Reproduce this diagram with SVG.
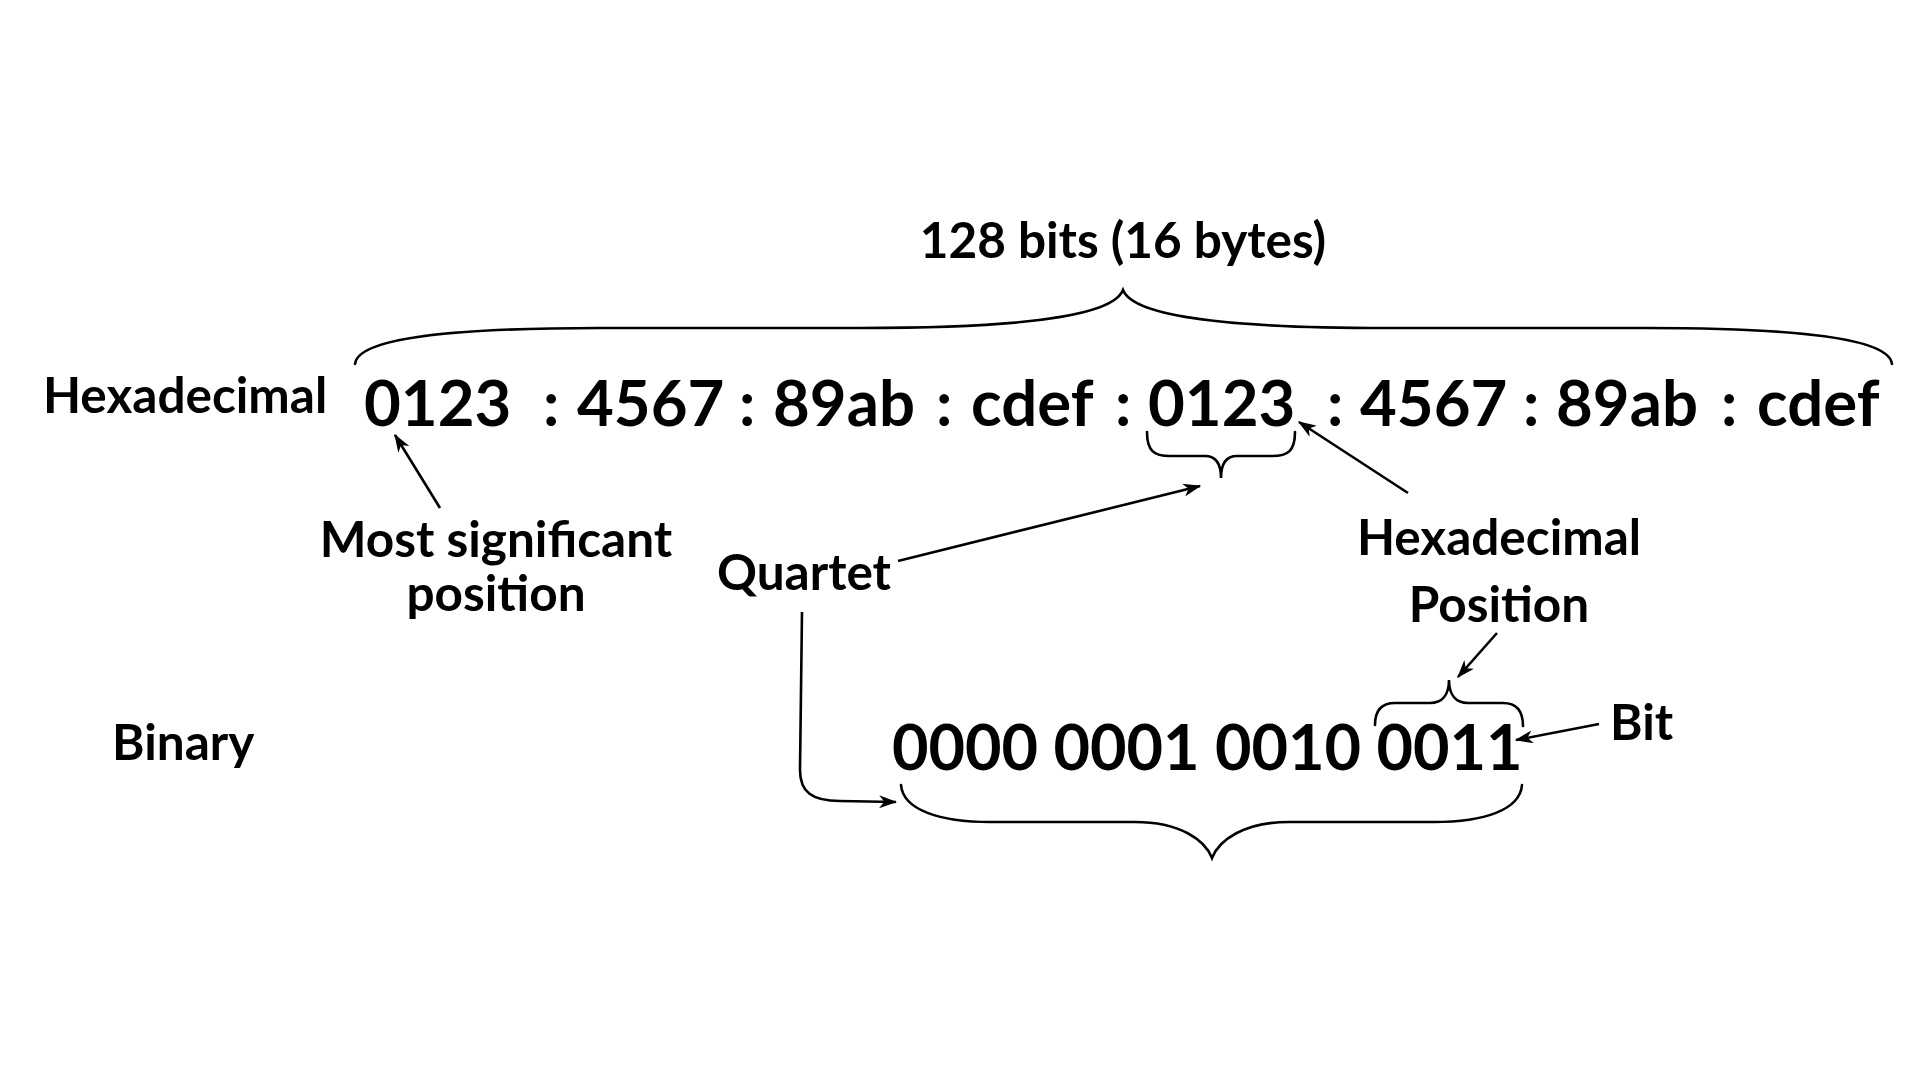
<svg xmlns="http://www.w3.org/2000/svg" width="1920" height="1080" viewBox="0 0 1920 1080">
<style>
  text { font-family: Lato, "Liberation Sans", sans-serif; font-weight: bold; fill: #000; }
  .lbl { font-size: 49.5px; }
  .big { font-size: 63.5px; }
  .bin { font-size: 63px; }
  .mid { text-anchor: middle; }
  .brace { fill: none; stroke: #000; stroke-width: 2.6; stroke-linecap: round; }
  .arrow { fill: none; stroke: #000; stroke-width: 2.6; marker-end: url(#ah); }
</style>
<defs>
  <marker id="ah" viewBox="0 0 14 10" refX="13" refY="5" markerWidth="7" markerHeight="5" orient="auto" markerUnits="strokeWidth">
    <path d="M0,0 L14,5 L0,10 L4,5 z" fill="#000"/>
  </marker>
</defs>
<rect width="1920" height="1080" fill="#fff"/>

<g id="title"><text class="lbl mid" x="1123" y="258">128 bits (16 bytes)</text></g>
<g id="label-hex"><text class="lbl" x="43" y="413">Hexadecimal</text></g>
<g id="label-binary"><text class="lbl" x="112" y="760">Binary</text></g>

<g id="hex-value">
  <text class="big" y="426"><tspan x="364">0123</tspan><tspan x="543">:</tspan><tspan x="577">4567</tspan><tspan x="739">:</tspan><tspan x="773">89ab</tspan><tspan x="936">:</tspan><tspan x="971">cdef</tspan><tspan x="1115">:</tspan><tspan x="1148">0123</tspan><tspan x="1327">:</tspan><tspan x="1360">4567</tspan><tspan x="1523">:</tspan><tspan x="1556">89ab</tspan><tspan x="1721">:</tspan><tspan x="1757">cdef</tspan></text>
</g>

<g id="binary-value"><text class="bin" x="892" y="770">0000 0001 0010 0011</text></g>

<g id="most-significant"><text class="lbl mid"><tspan x="496" y="557">Most significant</tspan><tspan x="496" y="611">position</tspan></text></g>
<g id="quartet"><text class="lbl mid" x="804" y="590">Quartet</text></g>
<g id="hex-position"><text class="lbl mid"><tspan x="1499" y="555">Hexadecimal</tspan><tspan x="1499" y="622">Position</tspan></text></g>
<g id="bit"><text class="lbl" x="1610" y="740">Bit</text></g>

<g id="braces">
  <path class="brace" d="M355,364 C358,338 450,328 600,328 L860,328 C1010,328 1112,318 1123,290 C1134,318 1236,328 1386,328 L1646,328 C1796,328 1889,338 1892,364"/>
  <path class="brace" d="M1147,432 C1147,451 1154,456 1170,456 L1205,456 C1215,456 1221,462 1221,478 C1221,462 1227,456 1237,456 L1272,456 C1288,456 1295,451 1295,432"/>
  <path class="brace" d="M1375,725 C1375,710 1382,703 1395,703 L1430,703 C1442,703 1449,695 1449,680 C1449,695 1456,703 1468,703 L1503,703 C1516,703 1523,710 1523,726"/>
  <path class="brace" d="M901,785 C903,810 940,822 990,822 L1135,822 C1180,822 1205,840 1212,858 C1219,840 1244,822 1289,822 L1434,822 C1484,822 1520,810 1522,785"/>
</g>

<g id="connectors">
  <path class="arrow" d="M440,508 L395,435"/>
  <path class="arrow" d="M898,561 L1200,486"/>
  <path class="arrow" d="M1408,493 L1299,422"/>
  <path class="arrow" d="M1497,633 L1458,677"/>
  <path class="arrow" d="M1599,724 L1516,740"/>
  <path class="arrow" d="M802,612 L800,770 C800,792 812,801 840,801 L896,802"/>
</g>
</svg>
